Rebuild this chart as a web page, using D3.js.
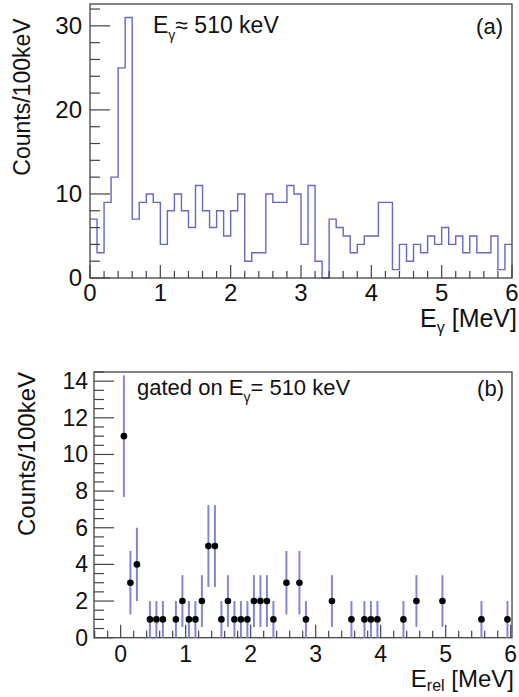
<!DOCTYPE html>
<html>
<head>
<meta charset="utf-8">
<script src="https://cdn.jsdelivr.net/npm/d3@7"></script>
<style>
  body { margin: 0; background: #fff; }
  text { font-family: "Liberation Sans", Arial, sans-serif; fill: #111; }
</style>
</head>
<body>
<div id="chart"></div>
<script>
// Panel (a): gamma spectrum, 100 keV bins from 0 to 6 MeV
const binWidthA = 0.1;
const countsA = [7, 3, 9, 12, 25, 31, 7, 9, 10, 9,
                 4, 8, 10, 8, 6, 11, 8, 6, 8, 5,
                 8, 10, 2, 3, 3, 10, 9, 9, 11, 10,
                 4, 11, 2, 0, 7, 6, 5, 3, 4, 5,
                 5, 9, 9, 1, 4, 2, 4, 3, 5, 4,
                 6, 4, 5, 3, 5, 3, 3, 5, 1, 4];

// Panel (b): relative energy gated on 510 keV (bin centres and counts)
const gatedE = [0.05, 0.15, 0.25, 0.45, 0.55, 0.65, 0.85, 0.95, 1.05, 1.15,
                1.25, 1.35, 1.45, 1.55, 1.65, 1.75, 1.85, 1.95, 2.05, 2.15,
                2.25, 2.35, 2.55, 2.75, 2.85, 3.25, 3.55, 3.75, 3.85, 3.95,
                4.35, 4.55, 4.95, 5.55, 5.95];
const gatedCounts = [11, 3, 4, 1, 1, 1, 1, 2, 1, 1,
                     2, 5, 5, 1, 2, 1, 1, 1, 2, 2,
                     2, 1, 3, 3, 1, 2, 1, 1, 1, 1,
                     1, 2, 2, 1, 1];

const W = 519, H = 697;
const histColor = "#6767c4";
const errColor = "#8585d6";
const frameColor = "#444";

const svg = d3.select("#chart").append("svg")
  .attr("width", W).attr("height", H);

// Draw ticks by hand so the ROOT look (ticks inside the frame) is kept
function yTicks(g, y, x0, major, minor, majLen, minLen) {
  const [lo, hi] = y.domain();
  for (let v = 0; v <= hi + 1e-9; v += minor) {
    const isMajor = Math.abs(v / major - Math.round(v / major)) < 1e-6;
    g.append("line")
      .attr("x1", x0).attr("x2", x0 + (isMajor ? majLen : minLen))
      .attr("y1", y(v)).attr("y2", y(v))
      .attr("stroke", frameColor).attr("stroke-width", 1.2);
  }
}
function xTicks(g, x, y0, start, major, minor, majLen, minLen) {
  const [lo, hi] = x.domain();
  for (let v = start; v <= hi + 1e-9; v += minor) {
    if (v < lo - 1e-9) continue;
    const isMajor = Math.abs(v / major - Math.round(v / major)) < 1e-6;
    g.append("line")
      .attr("x1", x(v)).attr("x2", x(v))
      .attr("y1", y0).attr("y2", y0 - (isMajor ? majLen : minLen))
      .attr("stroke", frameColor).attr("stroke-width", 1.2);
  }
}

// ---------- Panel (a) ----------
const ax = d3.scaleLinear().domain([0, 6]).range([90, 512]);
const ay = d3.scaleLinear().domain([0, 32.6]).range([278, 4]);
const ga = svg.append("g");

// histogram outline
const stepPts = countsA.map((c, i) => [i * binWidthA, c]);
stepPts.push([countsA.length * binWidthA, countsA[countsA.length - 1]]);
ga.append("path")
  .datum(stepPts)
  .attr("fill", "none")
  .attr("stroke", histColor)
  .attr("stroke-width", 1.4)
  .attr("d", d3.line().curve(d3.curveStepAfter).x(d => ax(d[0])).y(d => ay(d[1])));

ga.append("rect")
  .attr("x", 90).attr("y", 4).attr("width", 422).attr("height", 274)
  .attr("fill", "none").attr("stroke", frameColor).attr("stroke-width", 1.3);

yTicks(ga, ay, 90, 10, 2, 20, 10);
xTicks(ga, ax, 278, 0, 1, 0.2, 13, 7);

[0, 10, 20, 30].forEach(v => {
  ga.append("text").attr("x", 82).attr("y", ay(v) + 8)
    .attr("text-anchor", "end").attr("font-size", 24).text(v);
});
d3.range(0, 7).forEach(v => {
  ga.append("text").attr("x", ax(v)).attr("y", 301)
    .attr("text-anchor", "middle").attr("font-size", 24).text(v);
});

ga.append("text")
  .attr("transform", "translate(30,97) rotate(-90)")
  .attr("text-anchor", "middle").attr("font-size", 23)
  .text("Counts/100keV");

const xtA = ga.append("text").attr("x", 517).attr("y", 327)
  .attr("text-anchor", "end").attr("font-size", 25);
xtA.append("tspan").text("E");
xtA.append("tspan").attr("font-size", 16).attr("dy", 6).text("γ");
xtA.append("tspan").attr("dy", -6).text("  [MeV]");

const labA = ga.append("text").attr("x", 153).attr("y", 33).attr("font-size", 23);
labA.append("tspan").text("E");
labA.append("tspan").attr("font-size", 14).attr("dy", 7).text("γ");
labA.append("tspan").attr("dy", -7).text("≈ 510 keV");

ga.append("text").attr("x", 503).attr("y", 34)
  .attr("text-anchor", "end").attr("font-size", 22).text("(a)");

// ---------- Panel (b) ----------
const bx = d3.scaleLinear().domain([-0.41, 6.02]).range([94, 512]);
const by = d3.scaleLinear().domain([0, 14.5]).range([637.7, 372]);
const gb = svg.append("g");

gb.append("rect")
  .attr("x", 94).attr("y", 372).attr("width", 418).attr("height", 265.7)
  .attr("fill", "none").attr("stroke", frameColor).attr("stroke-width", 1.3);

yTicks(gb, by, 94, 2, 0.5, 20, 10);
xTicks(gb, bx, 637.7, -0.4, 1, 0.2, 13, 7);

// error bars (Poisson, sqrt(N))
gb.selectAll("line.err")
  .data(gatedE.map((e, i) => ({ e, n: gatedCounts[i] })))
  .join("line")
  .attr("class", "err")
  .attr("x1", d => bx(d.e)).attr("x2", d => bx(d.e))
  .attr("y1", d => by(d.n + Math.sqrt(d.n)))
  .attr("y2", d => by(Math.max(0, d.n - Math.sqrt(d.n))))
  .attr("stroke", errColor).attr("stroke-width", 2);

gb.selectAll("circle.pt")
  .data(gatedE.map((e, i) => ({ e, n: gatedCounts[i] })))
  .join("circle")
  .attr("class", "pt")
  .attr("cx", d => bx(d.e)).attr("cy", d => by(d.n))
  .attr("r", 3.3).attr("fill", "#000");

d3.range(0, 15, 2).forEach(v => {
  gb.append("text").attr("x", 88).attr("y", by(v) + 8)
    .attr("text-anchor", "end").attr("font-size", 23).text(v);
});
d3.range(0, 7).forEach(v => {
  gb.append("text").attr("x", bx(v)).attr("y", 662)
    .attr("text-anchor", "middle").attr("font-size", 23).text(v);
});

gb.append("text")
  .attr("transform", "translate(35,454) rotate(-90)")
  .attr("text-anchor", "middle").attr("font-size", 24)
  .text("Counts/100keV");

const xtB = gb.append("text").attr("x", 514).attr("y", 687)
  .attr("text-anchor", "end").attr("font-size", 24);
xtB.append("tspan").text("E");
xtB.append("tspan").attr("font-size", 16).attr("dy", 4).text("rel");
xtB.append("tspan").attr("dy", -4).text(" [MeV]");

const labB = gb.append("text").attr("x", 137).attr("y", 395).attr("font-size", 22);
labB.append("tspan").text("gated on E");
labB.append("tspan").attr("font-size", 14).attr("dy", 7).text("γ");
labB.append("tspan").attr("dy", -7).text("= 510 keV");

gb.append("text").attr("x", 504).attr("y", 396)
  .attr("text-anchor", "end").attr("font-size", 22).text("(b)");
</script>
</body>
</html>
